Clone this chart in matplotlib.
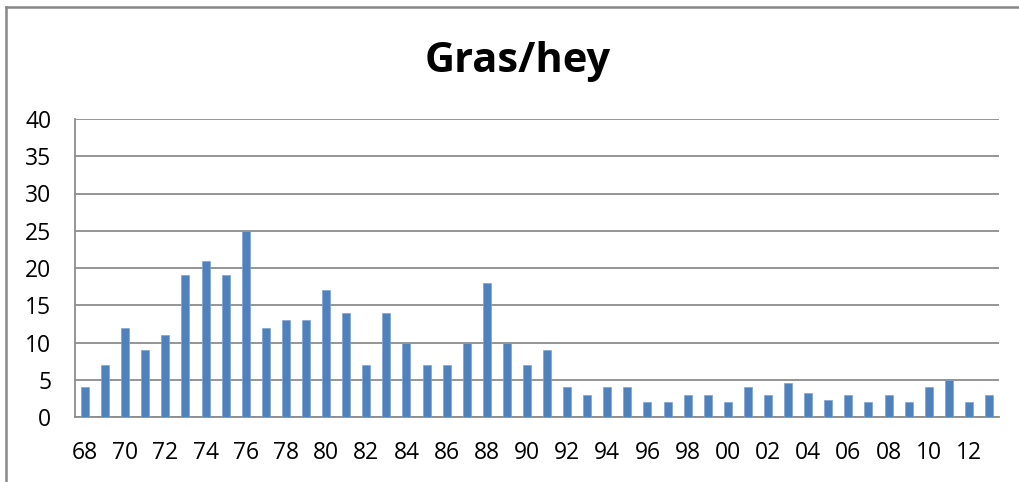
import matplotlib

matplotlib.use("Agg")
import matplotlib.pyplot as plt
from matplotlib.lines import Line2D
import numpy as np

years = ["68", "69", "70", "71", "72", "73", "74", "75", "76", "77", "78", "79",
         "80", "81", "82", "83", "84", "85", "86", "87", "88", "89", "90", "91",
         "92", "93", "94", "95", "96", "97", "98", "99", "00", "01", "02", "03",
         "04", "05", "06", "07", "08", "09", "10", "11", "12", "13"]
values = [4, 7, 12, 9, 11, 19, 21, 19, 25, 12, 13, 13,
          17, 14, 7, 14, 10, 7, 7, 10, 18, 10, 7, 9,
          4, 3, 4, 4, 2, 2, 3, 3, 2, 4, 3, 4.5,
          3.2, 2.3, 3, 2, 3, 2, 4, 5, 2, 3]
yticks = [0, 5, 10, 15, 20, 25, 30, 35, 40]

plt.rcParams["font.family"] = ["Open Sans", "DejaVu Sans"]

W, H = 1020, 482
fig = plt.figure(figsize=(W / 100, H / 100), dpi=100)
fig.patch.set_facecolor("white")

ax = fig.add_axes([75 / W, 1 - 417 / H, (999 - 75) / W, (417 - 119) / H])
x = np.arange(len(years))
ax.bar(x, values, width=0.4, color="#4F81BD", edgecolor="#7FA3D0", linewidth=0.5, zorder=3)

ax.set_xlim(-0.5, len(years) - 0.5)
ax.set_ylim(0, 40)
ax.set_yticks(yticks)
ax.set_xticks(x[::2])
ax.set_xticklabels(years[::2])
ax.tick_params(axis="both", length=0, labelsize=16.5, colors="#000000")
ax.tick_params(axis="x", pad=17)
ax.tick_params(axis="y", pad=17)
ax.grid(axis="y", color="#8C8C8C", linewidth=1.3, zorder=0)
for side in ["top", "right"]:
    ax.spines[side].set_visible(False)
ax.spines["left"].set_color("#8C8C8C")
ax.spines["bottom"].set_color("#8C8C8C")
ax.spines["left"].set_linewidth(1.3)
ax.spines["bottom"].set_linewidth(1.3)

fig.text(518 / W, 1 - 61 / H, "Gras/hey", ha="center", va="center",
         fontsize=30, fontweight="bold")

# outer chart border (left and top only visible)
fig.add_artist(Line2D([6 / W, 6 / W], [0, 1 - 7 / H], transform=fig.transFigure,
                      color="#888888", linewidth=1.8))
fig.add_artist(Line2D([6 / W, 1], [1 - 7 / H, 1 - 7 / H], transform=fig.transFigure,
                      color="#888888", linewidth=1.8))

fig.savefig("out.png", dpi=100, facecolor="white")
